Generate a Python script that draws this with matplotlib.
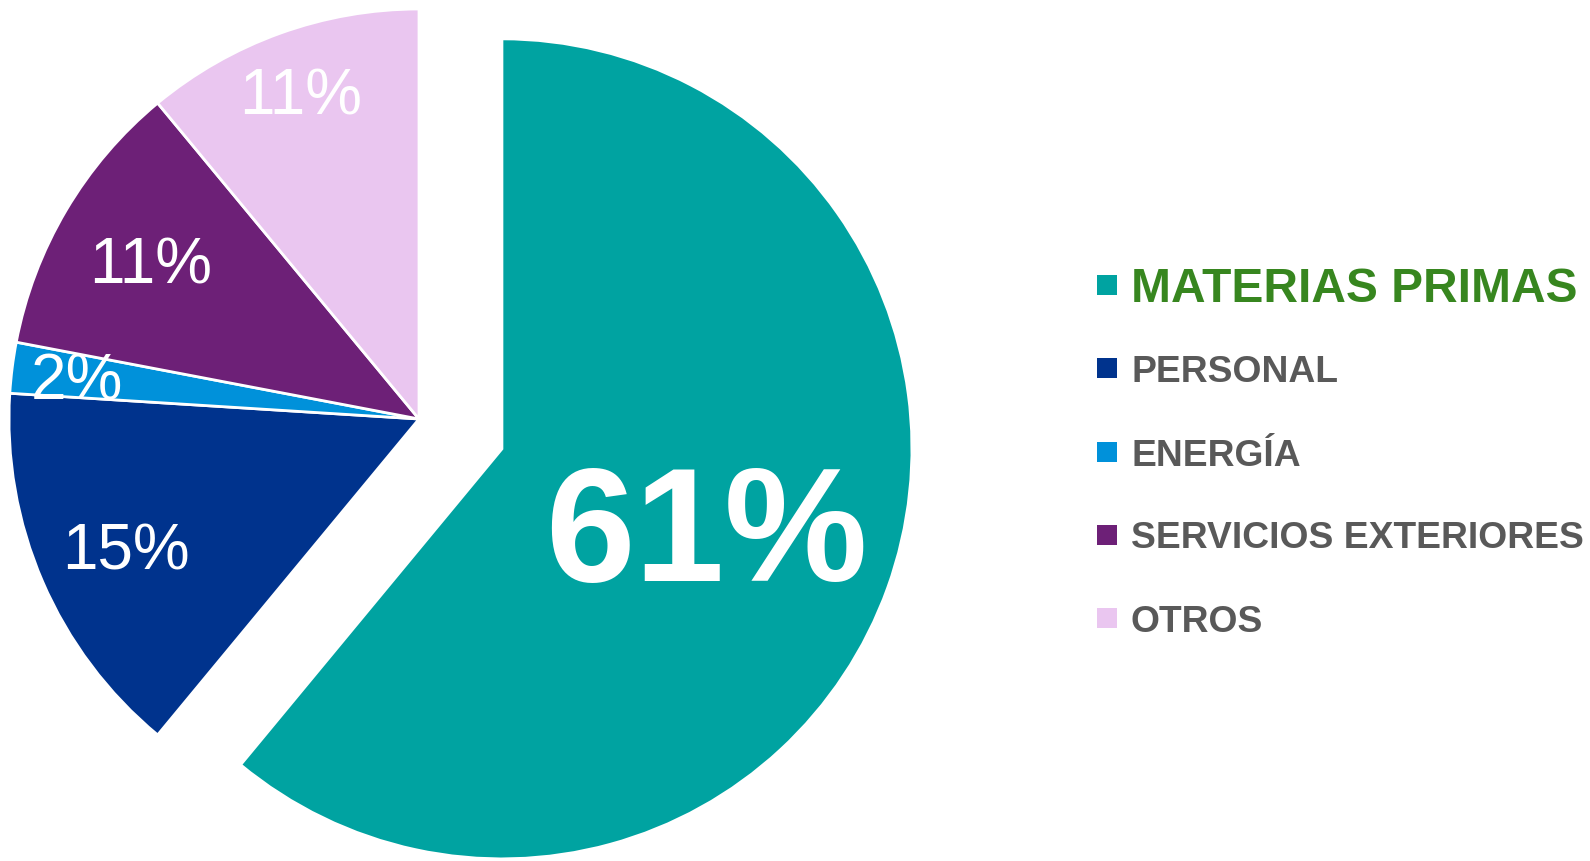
import numpy as np
import matplotlib.pyplot as plt
from matplotlib.patches import Rectangle

plt.rcParams['font.family'] = ['Liberation Sans', 'DejaVu Sans']

labels = ['MATERIAS PRIMAS', 'PERSONAL', 'ENERGÍA', 'SERVICIOS EXTERIORES', 'OTROS']
values = [61, 15, 2, 11, 11]
pct_text = ['61%', '15%', '2%', '11%', '11%']
colors = ['#00A3A1', '#00338D', '#0091DA', '#6D2077', '#EAC6F0']
explode = [0.215, 0, 0, 0, 0]
label_r = [0.53, 0.78, 0.84, 0.76, 0.85]   # label distance as fraction of radius

W, H = 1590, 861
fig = plt.figure(figsize=(W/100, H/100), dpi=100)

# pie centre (pixels from left / from bottom) and radius in pixels
cx, cy, R = 419, 442, 410
ax = fig.add_axes([0, 0, 1050/W, 1])
wedges, _ = ax.pie(values, colors=colors, explode=explode, startangle=90,
                   counterclock=False, radius=1,
                   wedgeprops=dict(edgecolor='white', linewidth=2))
ax.set_xlim(-cx/R, (1050-cx)/R)
ax.set_ylim(-cy/R, (H-cy)/R)
ax.set_aspect('auto')
ax.axis('off')

for i, w in enumerate(wedges):
    w.set_clip_on(False)
    mid = np.deg2rad((w.theta1 + w.theta2)/2)
    x0, y0 = w.center
    r = label_r[i]*w.r
    if i == 0:
        ax.text(x0 + r*np.cos(mid), y0 + r*np.sin(mid), pct_text[i], color='white',
                fontsize=116, fontweight='bold', ha='center', va='center_baseline')
    else:
        ax.text(x0 + r*np.cos(mid), y0 + r*np.sin(mid), pct_text[i], color='white',
                fontsize=46, ha='center', va='center_baseline')

# legend
ly = [285, 368, 452, 535, 618]
for i, lab in enumerate(labels):
    yc = 1 - ly[i]/H
    fig.patches.append(Rectangle((1097/W, yc - 10/H), 20/W, 20/H, transform=fig.transFigure,
                                 facecolor=colors[i], edgecolor='none'))
    if i == 0:
        fig.text(1131/W, yc, lab, color='#37861F', fontsize=34.5, fontweight='bold',
                 va='center_baseline', ha='left')
    else:
        fig.text(1131/W, yc, lab, color='#595959', fontsize=26.8, fontweight='bold',
                 va='center_baseline', ha='left')

fig.savefig('out.png', dpi=100, facecolor='white')
